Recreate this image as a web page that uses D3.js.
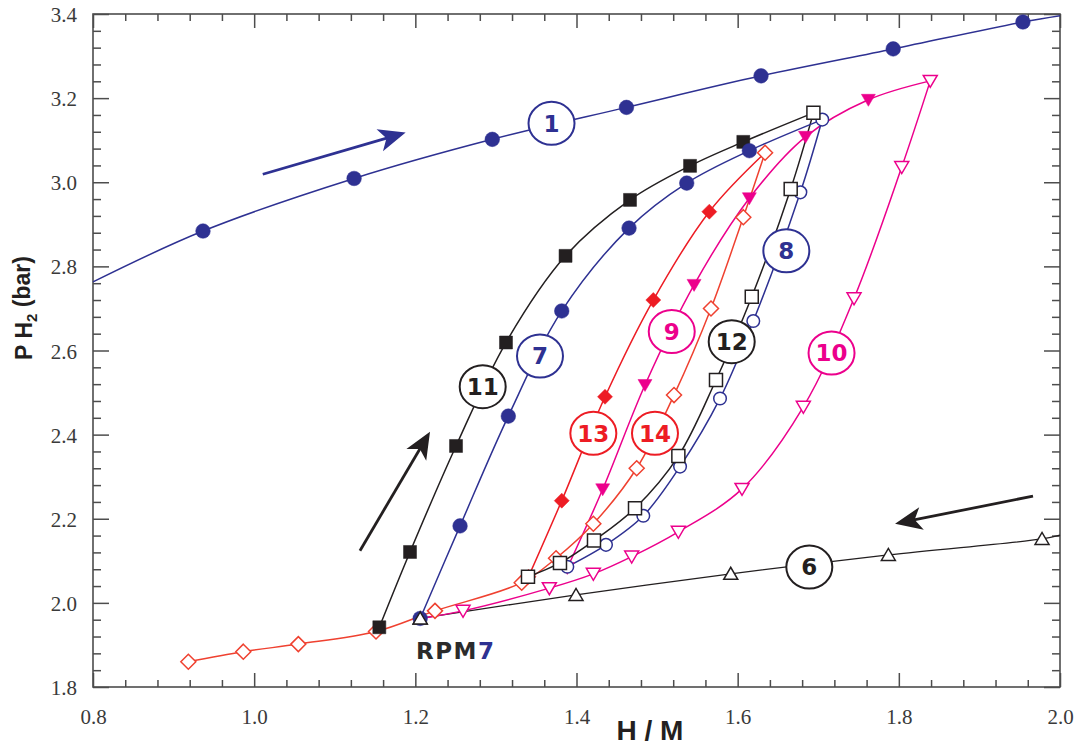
<!DOCTYPE html>
<html>
<head>
<meta charset="utf-8">
<script src="https://cdn.jsdelivr.net/npm/d3@7"></script>
<style>
  html, body { margin: 0; padding: 0; background: #fff; }
  svg { display: block; }
  .num { font-family: "DejaVu Sans", sans-serif; font-weight: bold; font-size: 23px; }
</style>
</head>
<body>
<div id="chart"></div>
<script>
// ── PCT hysteresis scans: P H2 vs H/M ───────────────────────────────────────

// curve 1: absorption plateau (first and last points are line ends, no marker)
const curve1  = [[0.8, 2.763], [0.9365, 2.884], [1.124, 3.009], [1.2955, 3.102], [1.462, 3.178],
                 [1.629, 3.253], [1.793, 3.317], [1.954, 3.381], [2.0, 3.396]];
// curve 6: desorption, open up-triangles (last point is line end)
const curve6  = [[1.206, 1.963], [1.3994, 2.019], [1.5914, 2.069], [1.787, 2.114], [1.9777, 2.152], [2.0, 2.161]];
// curve 7: blue filled circles, up from RPM7 (last point = top of curve 8)
const curve7  = [[1.206, 1.963], [1.2555, 2.183], [1.3154, 2.444], [1.3817, 2.694], [1.4652, 2.891],
                 [1.5368, 2.998], [1.6145, 3.075], [1.705, 3.149]];
// curve 8: blue open circles, down
const curve8  = [[1.705, 3.149], [1.6778, 2.976], [1.6194, 2.670], [1.5781, 2.486], [1.5285, 2.324],
                 [1.4829, 2.207], [1.4366, 2.138], [1.3886, 2.086]];
// curve 11: black filled squares, up (last point = top of curve 12)
const curve11 = [[1.1553, 1.942], [1.1934, 2.121], [1.2505, 2.373], [1.3125, 2.619], [1.3864, 2.825],
                 [1.4664, 2.958], [1.5409, 3.039], [1.607, 3.096], [1.694, 3.165]];
// curve 12: black open squares, down
const curve12 = [[1.694, 3.165], [1.6658, 2.984], [1.6175, 2.728], [1.5731, 2.530], [1.5264, 2.349],
                 [1.4726, 2.225], [1.4217, 2.148], [1.3795, 2.095], [1.3398, 2.062]];
// curve 9: magenta filled down-triangles (first point = top of curve 10)
const curve9  = [[1.839, 3.241], [1.7622, 3.196], [1.6842, 3.108], [1.6145, 2.962], [1.5459, 2.756],
                 [1.485, 2.518], [1.4325, 2.270], [1.3886, 2.083]];
// curve 10: magenta open down-triangles (last point = RPM7, no marker)
const curve10 = [[1.839, 3.241], [1.8036, 3.036], [1.7444, 2.724], [1.6815, 2.466], [1.6054, 2.271],
                 [1.5264, 2.169], [1.4685, 2.110], [1.4209, 2.069], [1.3663, 2.035], [1.2592, 1.981], [1.206, 1.963]];
// curve 13: red filled diamonds, up (last point = top of curve 14)
const curve13 = [[1.3404, 2.062], [1.3817, 2.243], [1.4354, 2.490], [1.4953, 2.720], [1.5648, 2.930], [1.634, 3.070]];
// curve 14: red open diamonds, down
const curve14 = [[1.634, 3.070], [1.607, 2.917], [1.5669, 2.700], [1.521, 2.494], [1.4747, 2.320],
                 [1.4209, 2.188], [1.3746, 2.106], [1.332, 2.048], [1.2244, 1.981], [1.1512, 1.932],
                 [1.0548, 1.902], [0.9865, 1.884], [0.9183, 1.860]];

// circled curve numbers and where they sit
const labelNames = ['1', '7', '8', '11', '12', '9', '10', '13', '14', '6'];
const labelPos   = [[1.369, 3.140], [1.3547, 2.587], [1.6604, 2.837], [1.2836, 2.514], [1.5926, 2.621],
                    [1.5182, 2.645], [1.7165, 2.594], [1.4209, 2.403], [1.4974, 2.403], [1.6889, 2.085]];

// direction arrows [from, to]
const arrowAbs  = [[1.0107, 3.019], [1.188, 3.118]];
const arrowUp   = [[1.1313, 2.124], [1.2182, 2.407]];
const arrowDes  = [[1.9665, 2.254], [1.7953, 2.188]];
const rpmPos    = [1.2008, 1.867];

const xTicks = [0.8, 1.0, 1.2, 1.4, 1.6, 1.8, 2.0];
const yTicks = [1.8, 2.0, 2.2, 2.4, 2.6, 2.8, 3.0, 3.2, 3.4];

const BLUE = '#2e3192', BLACK = '#231f20', MAG = '#ec008c', RED = '#ed1c24', ORANGE = '#ef4130';

const W = 1077, H = 747;
const x = d3.scaleLinear().domain([0.8, 2.0]).range([93, 1060]);
const y = d3.scaleLinear().domain([1.8, 3.4]).range([687, 14]);

const svg = d3.select('#chart').append('svg').attr('width', W).attr('height', H);

// ── Axes (ticks inward on all four sides) ──────────────────────────────
const minorX = d3.range(0.8, 2.0001, 0.04).filter(v => Math.abs(v * 5 - Math.round(v * 5)) > 1e-6);
const minorY = d3.range(1.8, 3.4001, 0.04).filter(v => Math.abs(v * 5 - Math.round(v * 5)) > 1e-6);

function addAxis(gen, tr, vals, size, labels) {
  const g = svg.append('g').attr('transform', tr)
    .call(gen.tickValues(vals).tickSize(size).tickPadding(0)
      .tickFormat(labels ? d3.format('.1f') : ''));
  g.select('.domain').remove();
  g.attr('font-family', '"Liberation Serif", "Times New Roman", serif').attr('font-size', 21);
  g.selectAll('.tick line').attr('stroke', '#4d4d4d').attr('stroke-width', 1.5);
  g.selectAll('.tick text').attr('fill', '#3a3a3a');
  return g;
}
const gx = addAxis(d3.axisBottom(x), 'translate(0,687)', xTicks, -14, true);
gx.selectAll('text').attr('y', 37).attr('dy', 0);
addAxis(d3.axisBottom(x), 'translate(0,687)', minorX, -7, false);
addAxis(d3.axisTop(x), 'translate(0,14)', xTicks, -14, false);
addAxis(d3.axisTop(x), 'translate(0,14)', minorX, -7, false);
const gy = addAxis(d3.axisLeft(y), 'translate(93,0)', yTicks, -16, true);
gy.selectAll('text').attr('x', -16).attr('dy', '0.36em');
addAxis(d3.axisLeft(y), 'translate(93,0)', minorY, -8, false);
addAxis(d3.axisRight(y), 'translate(1060,0)', yTicks, -16, false);
addAxis(d3.axisRight(y), 'translate(1060,0)', minorY, -8, false);

svg.append('rect')
  .attr('x', 93).attr('y', 14).attr('width', 1060 - 93).attr('height', 687 - 14)
  .attr('fill', 'none').attr('stroke', '#4d4d4d').attr('stroke-width', 1.6);

// axis titles
svg.append('text')
  .attr('x', 650).attr('y', 740).attr('text-anchor', 'middle')
  .attr('font-family', '"Liberation Sans", Arial, sans-serif').attr('font-weight', 'bold')
  .attr('font-size', 28).attr('fill', BLACK)
  .text('H / M');

const yt = svg.append('text')
  .attr('transform', 'translate(32,308) rotate(-90)').attr('text-anchor', 'middle')
  .attr('font-family', '"Liberation Sans", Arial, sans-serif').attr('font-weight', 'bold')
  .attr('font-size', 23).attr('fill', BLACK);
yt.append('tspan').text('P H');
yt.append('tspan').attr('font-size', 15).attr('dy', '0.3em').text('2');
yt.append('tspan').attr('dy', '-0.3em').text(' (bar)');

// ── Curves ──────────────────────────────────────────────────────────────
const line = d3.line().x(d => x(d[0])).y(d => y(d[1])).curve(d3.curveCatmullRom.alpha(0.5));

const series = [
  { data: curve1,  color: BLUE,   marker: 'circle',  fill: true,  skip: [0, 8] },
  { data: curve6,  color: BLACK,  marker: 'triUp',   fill: false, skip: [5], lw: 1.3 },
  { data: curve10, color: MAG,    marker: 'triDown', fill: false, skip: [10] },
  { data: curve9,  color: MAG,    marker: 'triDown', fill: true,  skip: [0] },
  { data: curve14, color: ORANGE, marker: 'diamond', fill: false, skip: [] },
  { data: curve13, color: RED,    marker: 'diamond', fill: true,  skip: [5] },
  { data: curve8,  color: BLUE,   marker: 'circle',  fill: false, skip: [] },
  { data: curve12, color: BLACK,  marker: 'square',  fill: false, skip: [] },
  { data: curve11, color: BLACK,  marker: 'square',  fill: true,  skip: [8] },
  { data: curve7,  color: BLUE,   marker: 'circle',  fill: true,  skip: [7] },
];

series.forEach(s => {
  svg.append('path').datum(s.data)
    .attr('d', line).attr('fill', 'none')
    .attr('stroke', s.color).attr('stroke-width', s.lw || 1.5);
});

function markerPath(type) {
  switch (type) {
    case 'square':  return 'M-6.5,-6.5H6.5V6.5H-6.5Z';
    case 'diamond': return 'M0,-7.5L7.5,0L0,7.5L-7.5,0Z';
    case 'triDown': return 'M-7,-5.5L7,-5.5L0,6.5Z';
    case 'triUp':   return 'M-7,5.5L7,5.5L0,-6.5Z';
  }
}

function drawMarkers(s) {
  const pts = s.data.filter((d, i) => !s.skip.includes(i));
  const g = svg.append('g');
  const sel = s.marker === 'circle'
    ? g.selectAll('circle').data(pts).join('circle')
        .attr('cx', d => x(d[0])).attr('cy', d => y(d[1]))
        .attr('r', s.fill ? 7.3 : 6.3)
    : g.selectAll('path').data(pts).join('path')
        .attr('transform', d => `translate(${x(d[0])},${y(d[1])})`)
        .attr('d', markerPath(s.marker));
  sel.attr('fill', s.fill ? s.color : '#fff')
    .attr('stroke', s.color).attr('stroke-width', s.fill ? 0.5 : 1.5);
}
series.forEach(drawMarkers);
// the RPM7 open triangle sits over the first blue circle
drawMarkers({ data: [curve6[0]], color: BLACK, marker: 'triUp', fill: false, skip: [] });

// ── Circled labels ─────────────────────────────────────────────────────
const labelColors = [BLUE, BLUE, BLUE, BLACK, BLACK, MAG, MAG, RED, RED, BLACK];
labelNames.forEach((t, i) => {
  const cx = x(labelPos[i][0]), cy = y(labelPos[i][1]);
  svg.append('ellipse')
    .attr('cx', cx).attr('cy', cy).attr('rx', 23).attr('ry', 21.5)
    .attr('fill', '#fff').attr('stroke', labelColors[i]).attr('stroke-width', 2);
  svg.append('text').attr('class', 'num')
    .attr('x', cx).attr('y', cy).attr('dy', '0.36em').attr('text-anchor', 'middle')
    .attr('fill', labelColors[i]).text(t);
});

// ── Arrows ─────────────────────────────────────────────────────────────
function arrow(a, color) {
  const x1 = x(a[0][0]), y1 = y(a[0][1]), x2 = x(a[1][0]), y2 = y(a[1][1]);
  const ang = Math.atan2(y2 - y1, x2 - x1) * 180 / Math.PI;
  const len = Math.hypot(x2 - x1, y2 - y1);
  const g = svg.append('g').attr('transform', `translate(${x2},${y2}) rotate(${ang})`);
  g.append('line').attr('x1', -len).attr('y1', 0).attr('x2', -18).attr('y2', 0)
    .attr('stroke', color).attr('stroke-width', 2.8);
  g.append('path').attr('d', 'M0,0L-27,-11.5L-20,0L-27,11.5Z').attr('fill', color);
}
arrow(arrowAbs, BLUE);
arrow(arrowUp, BLACK);
arrow(arrowDes, BLACK);

// RPM7 tag
const rt = svg.append('text')
  .attr('x', x(rpmPos[0])).attr('y', y(rpmPos[1]))
  .attr('font-family', '"DejaVu Sans", sans-serif').attr('font-weight', 'bold')
  .attr('font-size', 23).attr('letter-spacing', 1.5).attr('fill', '#2b2b2b');
rt.append('tspan').text('RPM');
rt.append('tspan').attr('fill', BLUE).text('7');
</script>
</body>
</html>
